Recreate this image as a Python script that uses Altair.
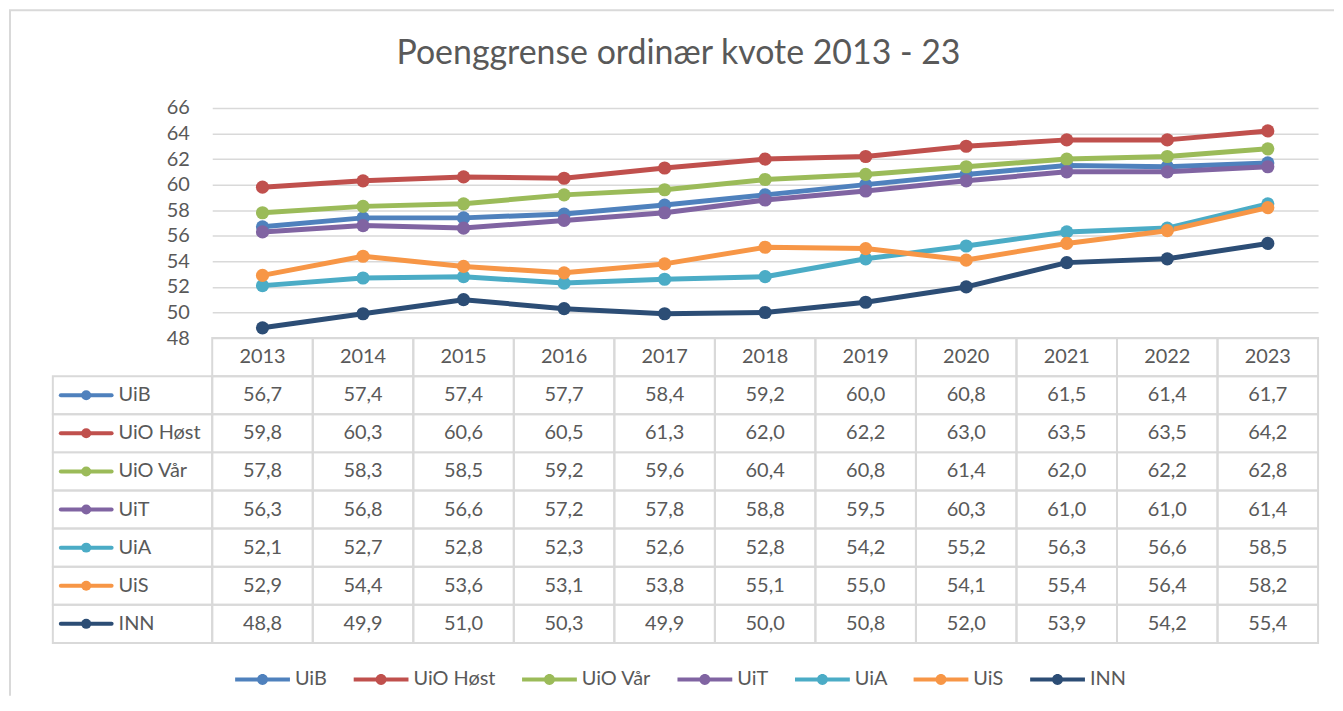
import altair as alt
import pandas as pd

years = [2013, 2014, 2015, 2016, 2017, 2018, 2019, 2020, 2021, 2022, 2023]
series = ["UiB", "UiO Høst", "UiO Vår", "UiT", "UiA", "UiS", "INN"]
colors = ["#4F81BD", "#C0504D", "#9BBB59", "#8064A2", "#4BACC6", "#F79646", "#2C4D75"]

uib = [56.7, 57.4, 57.4, 57.7, 58.4, 59.2, 60.0, 60.8, 61.5, 61.4, 61.7]
uio_host = [59.8, 60.3, 60.6, 60.5, 61.3, 62.0, 62.2, 63.0, 63.5, 63.5, 64.2]
uio_var = [57.8, 58.3, 58.5, 59.2, 59.6, 60.4, 60.8, 61.4, 62.0, 62.2, 62.8]
uit = [56.3, 56.8, 56.6, 57.2, 57.8, 58.8, 59.5, 60.3, 61.0, 61.0, 61.4]
uia = [52.1, 52.7, 52.8, 52.3, 52.6, 52.8, 54.2, 55.2, 56.3, 56.6, 58.5]
uis = [52.9, 54.4, 53.6, 53.1, 53.8, 55.1, 55.0, 54.1, 55.4, 56.4, 58.2]
inn = [48.8, 49.9, 51.0, 50.3, 49.9, 50.0, 50.8, 52.0, 53.9, 54.2, 55.4]
y_ticks = [48, 50, 52, 54, 56, 58, 60, 62, 64, 66]

title = "Poenggrense ordinær kvote 2013 - 23"
header_key = "hdr"

values = {"UiB": uib, "UiO Høst": uio_host, "UiO Vår": uio_var, "UiT": uit,
          "UiA": uia, "UiS": uis, "INN": inn}

rows = []
for s in series:
    for yr, v in zip(years, values[s]):
        rows.append({"serie": s, "year": str(yr), "value": v,
                     "label": f"{v:.1f}".replace(".", ",")})
df = pd.DataFrame(rows)
hdr = pd.DataFrame({"serie": header_key, "year": [str(y) for y in years],
                    "label": [str(y) for y in years]})
table_df = pd.concat([hdr, df[["serie", "year", "label"]]], ignore_index=True)
names_df = pd.DataFrame({"serie": series})
one = pd.DataFrame({"k": [0]})

W, H = 1110, 537
PLOT_H = 231
TXT = "#595959"
GRID = "#d9d9d9"
FONT = "Lato"

sym_path = ("M-1,-0.075 L1,-0.075 L1,0.075 L-1,0.075 Z "
            "M-0.2,0 A0.2,0.2 0 1,1 0.2,0 A0.2,0.2 0 1,1 -0.2,0 Z")

legend = alt.Legend(title=None, orient="none", legendX=23, legendY=546, direction="horizontal",
                    symbolType=sym_path, symbolSize=3025, symbolStrokeWidth=0, symbolOpacity=1,
                    labelFontSize=20, labelColor=TXT, labelFont=FONT, labelOffset=5,
                    columnPadding=26)
color = alt.Color("serie:N", scale=alt.Scale(domain=series, range=colors), sort=series, legend=legend)

x_line = alt.X("year:O", scale=alt.Scale(type="point", padding=0.5, range=[0, W]), axis=None)
y_line = alt.Y("value:Q", scale=alt.Scale(domain=[48, 66], range=[PLOT_H, 0], nice=False, zero=False),
               axis=alt.Axis(values=y_ticks, grid=True, gridColor=GRID, gridWidth=1.5,
                             domain=False, ticks=False, labelPadding=23, labelFontSize=20,
                             labelColor=TXT, labelFont=FONT, title=None))

lines = alt.Chart(df).mark_line(strokeWidth=5, strokeCap="round", strokeJoin="round").encode(
    x=x_line, y=y_line, color=color)
points = alt.Chart(df).mark_circle(size=175, opacity=1).encode(
    x=x_line, y=y_line, color=color)
line_part = alt.layer(lines, points)

row_domain = [header_key] + series
x_tab = alt.X("year:O", scale=alt.Scale(type="band", paddingInner=0, paddingOuter=0, range=[0, W]), axis=None)
y_tab = alt.Y("serie:N", scale=alt.Scale(type="band", domain=row_domain, paddingInner=0, paddingOuter=0,
                                         range=[PLOT_H, H]), axis=None)

cells = alt.Chart(table_df).mark_rect(fillOpacity=0, stroke=GRID, strokeWidth=2).encode(x=x_tab, y=y_tab)
cell_text = alt.Chart(table_df).mark_text(fontSize=20, color=TXT, font=FONT).encode(
    x=x_tab, y=y_tab, text="label:N")
name_cells = alt.Chart(names_df).mark_rect(fillOpacity=0, stroke=GRID, strokeWidth=2).encode(
    x=alt.value(-160), x2=alt.value(0), y=y_tab)
name_text = alt.Chart(names_df).mark_text(fontSize=20, color=TXT, font=FONT, align="left").encode(
    x=alt.value(-94), y=y_tab, text="serie:N")
name_line = alt.Chart(names_df).mark_rule(strokeWidth=4, strokeCap="round").encode(
    x=alt.value(-152), x2=alt.value(-101), y=y_tab, color=color)
name_dot = alt.Chart(names_df).mark_circle(size=100, opacity=1).encode(
    x=alt.value(-126.5), y=y_tab, color=color)
border_left = alt.Chart(one).mark_rule(color=GRID, strokeWidth=2).encode(
    x=alt.value(-203), y=alt.value(-98), y2=alt.value(590))
border_top = alt.Chart(one).mark_rule(color=GRID, strokeWidth=2).encode(
    x=alt.value(-204), x2=alt.value(1126), y=alt.value(-98))

table_part = alt.layer(border_left, border_top, cells, cell_text, name_cells, name_text,
                       name_line, name_dot)

chart = alt.layer(line_part, table_part).resolve_scale(x="independent", y="independent").properties(
    width=W, height=H,
    title=alt.TitleParams(title, fontSize=34, font=FONT, fontWeight="normal", color=TXT,
                          anchor="middle", offset=-62, dx=-87),
    padding=0,
).configure_view(stroke=None)

chart.save("out.html", embed_options={"renderer": "svg", "actions": False})
